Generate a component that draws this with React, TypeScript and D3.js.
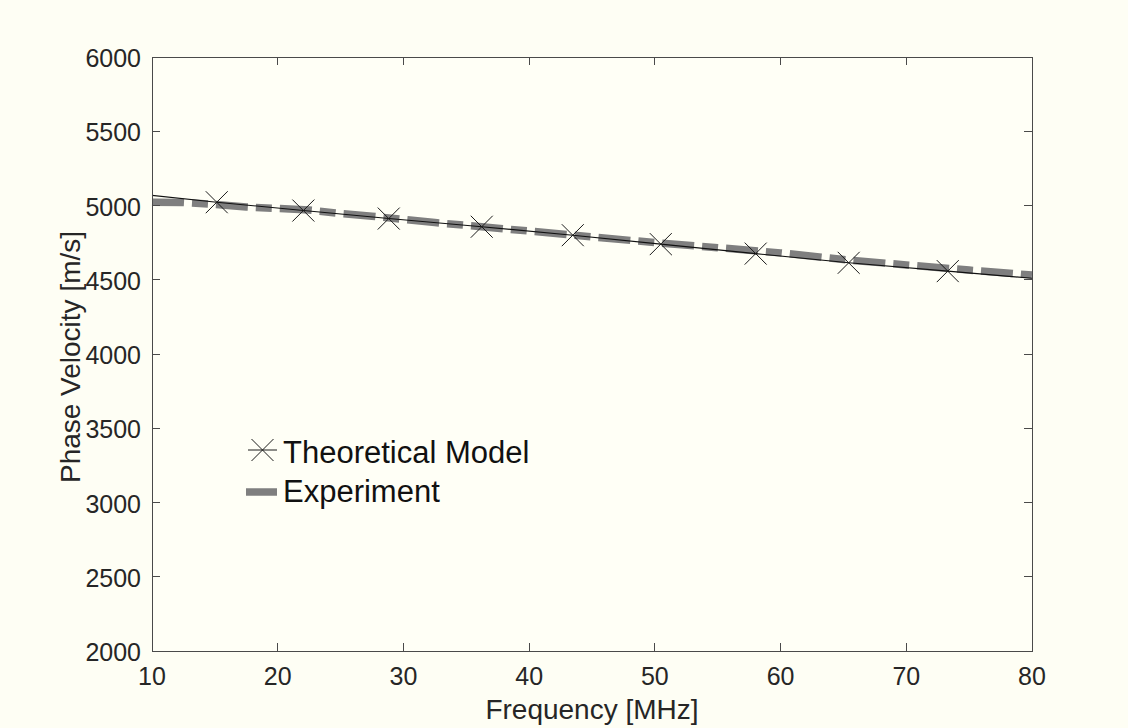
import React from "react";
import * as d3 from "d3";

// ---- data ----
const theoryFreq = [10, 15.15, 22.04, 28.83, 36.23, 43.47, 50.47, 58.02, 65.42, 73.3, 80];
const theoryVel = [5068, 5022, 4966, 4912, 4857, 4800, 4740, 4676, 4614, 4558, 4510];
// markers appear on interior theory points
const markerFreq = [15.15, 22.04, 28.83, 36.23, 43.47, 50.47, 58.02, 65.42, 73.3];
const markerVel = [5022, 4966, 4912, 4857, 4800, 4740, 4676, 4614, 4558];

const expFreq = [10, 12.5, 15, 17.5, 20, 22.5, 25, 27.5, 30, 32.5, 35, 40, 45, 50, 55, 60, 65, 70, 75, 80];
const expVel = [5022, 5020, 5008, 4990, 4980, 4970, 4946, 4928, 4906, 4885, 4866, 4828, 4789, 4750, 4716, 4681, 4636, 4600, 4565, 4532];

const xTicks = [10, 20, 30, 40, 50, 60, 70, 80];
const yTicks = [2000, 2500, 3000, 3500, 4000, 4500, 5000, 5500, 6000];

const xLabel = "Frequency [MHz]";
const yLabel = "Phase Velocity [m/s]";
const legendLabels = ["Theoretical Model", "Experiment"];

const W = 1128;
const H = 728;
const L = 152, R = 1032, T = 57, B = 651;
const FONT = "'Liberation Sans', Arial, Helvetica, sans-serif";
const AX = "#4a4a4a";
const GREY = "#7f7f7f";

export default function App() {
  const x = d3.scaleLinear().domain([10, 80]).range([L, R]);
  const y = d3.scaleLinear().domain([2000, 6000]).range([B, T]);

  const theoryLine = d3
    .line<number>()
    .x((_, i) => x(theoryFreq[i]))
    .y((_, i) => y(theoryVel[i]))(theoryFreq) as string;

  const expLine = d3
    .line<number>()
    .x((_, i) => x(expFreq[i]))
    .y((_, i) => y(expVel[i]))(expFreq) as string;

  const m = 11;
  const xMark = (cx: number, cy: number, key: string) => (
    <path
      key={key}
      d={`M${cx - m},${cy - m}L${cx + m},${cy + m}M${cx - m},${cy + m}L${cx + m},${cy - m}`}
      stroke="#1a1a1a"
      strokeWidth={1}
      fill="none"
    />
  );

  const tk = 8;

  return (
    <svg
      width={W}
      height={H}
      style={{ position: "absolute", left: 0, top: 0, background: "#fefef4" }}
      fontFamily={FONT}
    >
      <rect x={0} y={0} width={W} height={H} fill="#fefef4" />
      <rect x={L} y={T} width={R - L} height={B - T} fill="#fffff6" />

      {/* experiment dashed line */}
      <path
        d={expLine}
        fill="none"
        stroke={GREY}
        strokeWidth={7.5}
        strokeDasharray="32,8,16,8"
        strokeLinecap="butt"
        strokeLinejoin="round"
      />
      {/* theory line */}
      <path d={theoryLine} fill="none" stroke="#111" strokeWidth={1.1} />
      {markerFreq.map((f, i) => xMark(x(f), y(markerVel[i]), "m" + i))}

      {/* axes box */}
      <rect x={L} y={T} width={R - L} height={B - T} fill="none" stroke={AX} strokeWidth={1} shapeRendering="crispEdges" />

      {/* x ticks */}
      {xTicks.map((t) => (
        <g key={"x" + t}>
          <line x1={x(t)} x2={x(t)} y1={B} y2={B - tk} stroke={AX} shapeRendering="crispEdges" />
          <line x1={x(t)} x2={x(t)} y1={T} y2={T + tk} stroke={AX} shapeRendering="crispEdges" />
          <text x={x(t)} y={685} textAnchor="middle" fontSize={25} fill="#262626">
            {t}
          </text>
        </g>
      ))}
      {/* y ticks */}
      {yTicks.map((t) => (
        <g key={"y" + t}>
          <line x1={L} x2={L + tk} y1={y(t)} y2={y(t)} stroke={AX} shapeRendering="crispEdges" />
          <line x1={R} x2={R - tk} y1={y(t)} y2={y(t)} stroke={AX} shapeRendering="crispEdges" />
          <text x={141} y={y(t)} dy="0.4em" textAnchor="end" fontSize={25} fill="#262626">
            {t}
          </text>
        </g>
      ))}

      {/* axis titles */}
      <text x={(L + R) / 2} y={719} textAnchor="middle" fontSize={28} fill="#262626">
        {xLabel}
      </text>
      <text
        transform={`translate(80,${(T + B) / 2 + 3}) rotate(-90)`}
        textAnchor="middle"
        fontSize={28}
        fill="#262626"
      >
        {yLabel}
      </text>

      {/* legend */}
      <line x1={248} x2={277} y1={450} y2={450} stroke="#1a1a1a" strokeWidth={1} />
      {xMark(262.5, 450, "leg")}
      <text x={283} y={463} fontSize={31} fill="#111">
        {legendLabels[0]}
      </text>
      <line x1={246} x2={277} y1={492} y2={492} stroke={GREY} strokeWidth={7.5} />
      <text x={283} y={502} fontSize={31} fill="#111">
        {legendLabels[1]}
      </text>
    </svg>
  );
}
